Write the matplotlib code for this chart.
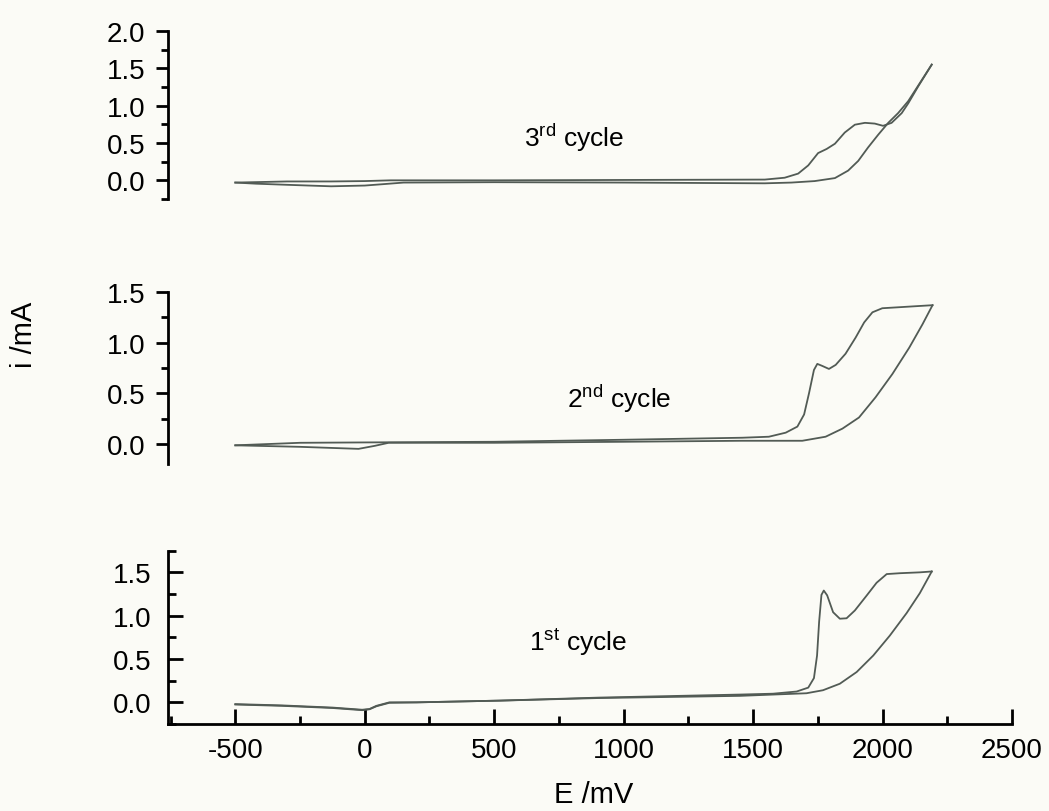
import matplotlib
matplotlib.use("Agg")
import matplotlib.pyplot as plt
from matplotlib.ticker import MultipleLocator

plt.rcParams['font.family'] = ['Liberation Sans', 'DejaVu Sans']
plt.rcParams['mathtext.fontset'] = 'custom'
plt.rcParams['mathtext.rm'] = 'Liberation Sans'
plt.rcParams['axes.unicode_minus'] = False

# 3rd cycle (top panel)
e3_fwd = [-500, -300, -130, 0, 100, 500, 1000, 1545, 1622, 1674, 1713, 1751, 1784, 1816,
          1854, 1893, 1932, 1970, 2002, 2035, 2074, 2099, 2138, 2190]
i3_fwd = [-0.03, -0.015, -0.015, -0.01, 0.0, 0.0, 0.005, 0.01, 0.035, 0.09, 0.20, 0.365, 0.42,
          0.49, 0.64, 0.745, 0.77, 0.76, 0.73, 0.77, 0.90, 1.03, 1.26, 1.55]
e3_rev = [2190, 2099, 2060, 2022, 1983, 1944, 1906, 1867, 1816, 1738, 1648, 1545, 1000, 500,
          150, 76, 0, -130, -300, -420, -500]
i3_rev = [1.55, 1.06, 0.90, 0.77, 0.61, 0.44, 0.26, 0.13, 0.03, -0.01, -0.03, -0.04, -0.03,
          -0.025, -0.03, -0.05, -0.07, -0.08, -0.06, -0.045, -0.03]

# 2nd cycle (middle panel)
e2_fwd = [-500, -250, 100, 500, 1000, 1458, 1561, 1626, 1671, 1697, 1716, 1735, 1748, 1767,
          1793, 1819, 1857, 1896, 1929, 1961, 1999, 2064, 2128, 2193]
i2_fwd = [-0.015, 0.01, 0.015, 0.02, 0.04, 0.06, 0.07, 0.11, 0.17, 0.29, 0.50, 0.73, 0.79,
          0.77, 0.74, 0.78, 0.89, 1.05, 1.20, 1.30, 1.34, 1.35, 1.36, 1.37]
e2_rev = [2193, 2154, 2103, 2038, 1973, 1909, 1845, 1780, 1690, 1587, 1458, 1000, 500, 92,
          39, -24, -250, -500]
i2_rev = [1.37, 1.18, 0.95, 0.69, 0.46, 0.26, 0.15, 0.07, 0.03, 0.03, 0.03, 0.02, 0.01, 0.01,
          -0.02, -0.05, -0.03, -0.015]

# 1st cycle (bottom panel)
e1_fwd = [-500, -320, -125, -10, 18, 45, 95, 200, 520, 905, 1449, 1577, 1668, 1713, 1735,
          1747, 1755, 1764, 1773, 1786, 1809, 1835, 1861, 1893, 1938, 1977, 2016, 2067, 2144, 2190]
i1_fwd = [-0.02, -0.035, -0.06, -0.085, -0.077, -0.04, 0.0, 0.0, 0.02, 0.055, 0.09, 0.10,
          0.125, 0.17, 0.28, 0.54, 0.93, 1.24, 1.29, 1.235, 1.04, 0.965, 0.97, 1.06, 1.23,
          1.38, 1.48, 1.49, 1.50, 1.51]
e1_rev = [2190, 2144, 2093, 2028, 1964, 1900, 1835, 1770, 1706, 1577, 1449, 905, 520, 200,
          95, 45, 18, -10, -125, -320, -500]
i1_rev = [1.51, 1.26, 1.03, 0.77, 0.54, 0.35, 0.215, 0.14, 0.105, 0.09, 0.075, 0.05, 0.02,
          0.0, -0.005, -0.045, -0.08, -0.09, -0.065, -0.04, -0.025]

x_ticks = [-500, 0, 500, 1000, 1500, 2000, 2500]
line_color = '#525b55'
bg = '#fbfbf6'


def main():
    fig = plt.figure(figsize=(10.49, 8.12), dpi=100, facecolor=bg)

    left, width = 168 / 1049, 844 / 1049
    ax3 = fig.add_axes([left, 0.7537, width, 0.2069])
    ax2 = fig.add_axes([left, 0.4273, width, 0.2118])
    ax1 = fig.add_axes([left, 0.1071, width, 0.2135])

    panels = [
        (ax3, e3_fwd, i3_fwd, e3_rev, i3_rev, (-0.25, 2.0), "3$^{\\rm rd}$ cycle", (810, 0.46)),
        (ax2, e2_fwd, i2_fwd, e2_rev, i2_rev, (-0.2, 1.5), "2$^{\\rm nd}$ cycle", (982, 0.36)),
        (ax1, e1_fwd, i1_fwd, e1_rev, i1_rev, (-0.25, 1.75), "1$^{\\rm st}$ cycle", (824, 0.61)),
    ]

    for ax, ef, jf, er, jr, ylim, label, pos in panels:
        ax.set_facecolor(bg)
        ax.plot(ef, jf, color=line_color, lw=1.3)
        ax.plot(er, jr, color=line_color, lw=1.3)
        ax.set_xlim(-760, 2500)
        ax.set_ylim(*ylim)
        ax.yaxis.set_major_locator(MultipleLocator(0.5))
        ax.yaxis.set_minor_locator(MultipleLocator(0.25))
        ax.text(pos[0], pos[1], label, fontsize=19, ha='center', va='baseline')
        for s in ['top', 'right']:
            ax.spines[s].set_visible(False)
        ax.spines['left'].set_linewidth(2)
        ax.spines['bottom'].set_linewidth(2)

    for ax in (ax3, ax2):
        ax.spines['bottom'].set_visible(False)
        ax.set_xticks([])
        ax.tick_params(axis='y', which='major', direction='out', length=8.5, width=2,
                       labelsize=20, pad=8)
        ax.tick_params(axis='y', which='minor', direction='out', length=5, width=2)

    ax1.set_xticks(x_ticks)
    ax1.xaxis.set_minor_locator(MultipleLocator(250))
    ax1.tick_params(axis='both', which='major', direction='in', length=11, width=2,
                    labelsize=20)
    ax1.tick_params(axis='both', which='minor', direction='in', length=6, width=2)
    ax1.tick_params(axis='x', which='major', pad=9)
    ax1.tick_params(axis='y', which='major', pad=12)

    fig.text(24 / 1049, 1 - 335 / 812, "i /mA", rotation=90, fontsize=21,
             ha='center', va='center')
    fig.text(594 / 1049, 1 - 795 / 812, "E /mV", fontsize=21, ha='center', va='center')

    plt.savefig("out.png", dpi=100, facecolor=bg)


if __name__ == "__main__":
    main()
